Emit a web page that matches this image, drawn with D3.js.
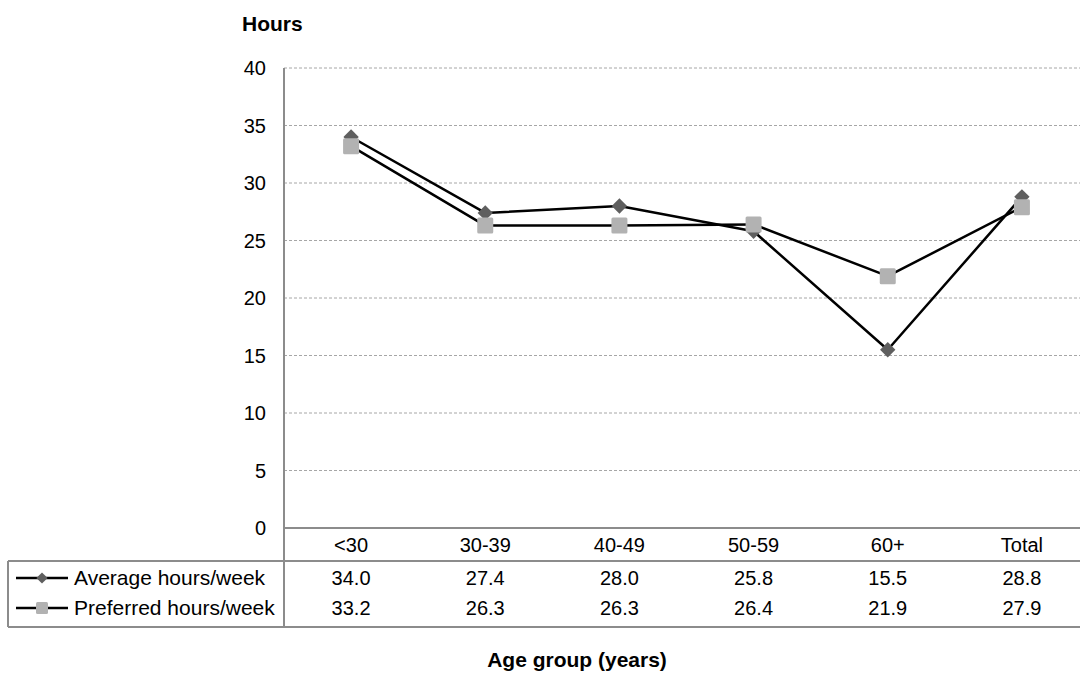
<!DOCTYPE html>
<html>
<head>
<meta charset="utf-8">
<script src="https://cdn.jsdelivr.net/npm/d3@7"></script>
<style>
  html, body { margin: 0; padding: 0; background: #fff; }
  svg { display: block; font-family: "Liberation Sans", Arial, sans-serif; }
</style>
</head>
<body>
<svg id="chart" width="1080" height="673"></svg>
<script>
const categories = ["<30", "30-39", "40-49", "50-59", "60+", "Total"];
const averageHours = [34.0, 27.4, 28.0, 25.8, 15.5, 28.8];
const preferredHours = [33.2, 26.3, 26.3, 26.4, 21.9, 27.9];
const seriesNames = ["Average hours/week", "Preferred hours/week"];
const yTicks = [0, 5, 10, 15, 20, 25, 30, 35, 40];
const yTitle = "Hours";
const xTitle = "Age group (years)";

const svg = d3.select("#chart");
const plotLeft = 284, plotRight = 1089, plotTop = 68, plotBottom = 528;
const tableLeft = 8, catRowBottom = 561, tableBottom = 627;

const x = d3.scaleBand().domain(categories).range([plotLeft, plotRight]);
const y = d3.scaleLinear().domain([0, 40]).range([plotBottom, plotTop]);
const cx = c => x(c) + x.bandwidth() / 2;

// gridlines
svg.append("g").selectAll("line").data(yTicks.filter(t => t > 0)).join("line")
  .attr("x1", plotLeft).attr("x2", 1080)
  .attr("y1", d => y(d)).attr("y2", d => y(d))
  .attr("stroke", "#a6a6a6").attr("stroke-width", 1).attr("stroke-dasharray", "3,2");

// y tick labels
svg.append("g").selectAll("text").data(yTicks).join("text")
  .attr("x", 266).attr("y", d => y(d)).attr("dy", "0.35em")
  .attr("text-anchor", "end").attr("font-size", 20).attr("fill", "#000")
  .text(d => d);

// y title
svg.append("text").attr("x", 242).attr("y", 31).attr("font-size", 21)
  .attr("font-weight", "bold").text(yTitle);

// axis & table lines
const lineColor = "#8c8c8c";
svg.append("line").attr("x1", plotLeft).attr("x2", plotLeft).attr("y1", plotTop).attr("y2", tableBottom)
  .attr("stroke", lineColor).attr("stroke-width", 2);
svg.append("line").attr("x1", plotLeft).attr("x2", 1080).attr("y1", y(0)).attr("y2", y(0))
  .attr("stroke", lineColor).attr("stroke-width", 2);
svg.append("line").attr("x1", tableLeft).attr("x2", 1080).attr("y1", catRowBottom).attr("y2", catRowBottom)
  .attr("stroke", lineColor).attr("stroke-width", 2);
svg.append("line").attr("x1", tableLeft).attr("x2", 1080).attr("y1", tableBottom).attr("y2", tableBottom)
  .attr("stroke", lineColor).attr("stroke-width", 2);
svg.append("line").attr("x1", tableLeft).attr("x2", tableLeft).attr("y1", catRowBottom).attr("y2", tableBottom)
  .attr("stroke", lineColor).attr("stroke-width", 2);

// category labels
svg.append("g").selectAll("text").data(categories).join("text")
  .attr("x", d => cx(d)).attr("y", 545).attr("dy", "0.35em")
  .attr("text-anchor", "middle").attr("font-size", 20).text(d => d);

const series = [
  { name: seriesNames[0], values: averageHours, shape: "diamond", color: "#5f5f5f", rowY: 578 },
  { name: seriesNames[1], values: preferredHours, shape: "square", color: "#b2b2b2", rowY: 608 }
];

const line = d3.line().x((d, i) => cx(categories[i])).y(d => y(d));

function drawMarker(g, shape, color, px, py, small) {
  if (shape === "diamond") {
    g.append("path").attr("d", d3.symbol(d3.symbolDiamond2, small ? 80 : 150)())
      .attr("transform", `translate(${px},${py})`).attr("fill", color);
  } else {
    const h = small ? 6 : 8;
    g.append("rect").attr("x", px - h).attr("y", py - h).attr("width", 2 * h).attr("height", 2 * h)
      .attr("rx", 1.5).attr("fill", color);
  }
}

series.forEach(s => {
  const g = svg.append("g");
  g.append("path").datum(s.values).attr("d", line)
    .attr("fill", "none").attr("stroke", "#000").attr("stroke-width", 2.5).attr("stroke-linejoin", "round");
  s.values.forEach((v, i) => drawMarker(g, s.shape, s.color, cx(categories[i]), y(v), false));

  // table row
  const lg = svg.append("g");
  lg.append("line").attr("x1", 16).attr("x2", 68).attr("y1", s.rowY).attr("y2", s.rowY)
    .attr("stroke", "#000").attr("stroke-width", 2.5);
  drawMarker(lg, s.shape, s.color, 42, s.rowY, true);
  lg.append("text").attr("x", 74).attr("y", s.rowY).attr("dy", "0.35em")
    .attr("font-size", 21).text(s.name);
  lg.selectAll(".val").data(s.values).join("text").attr("class", "val")
    .attr("x", (d, i) => cx(categories[i])).attr("y", s.rowY).attr("dy", "0.35em")
    .attr("text-anchor", "middle").attr("font-size", 20).text(d => d.toFixed(1));
});

// x title
svg.append("text").attr("x", 577).attr("y", 667).attr("text-anchor", "middle")
  .attr("font-size", 21).attr("font-weight", "bold").text(xTitle);
</script>
</body>
</html>
